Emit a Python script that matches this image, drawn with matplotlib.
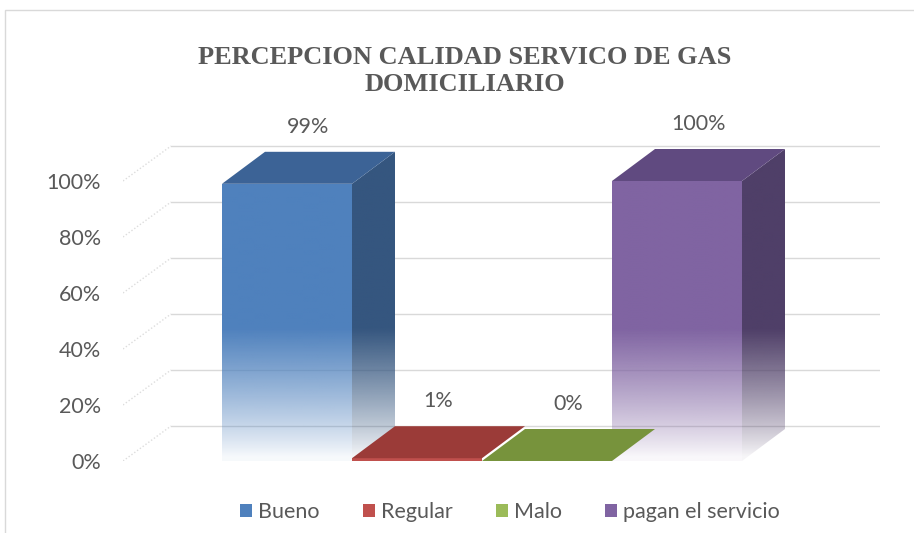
import numpy as np
import matplotlib
matplotlib.use("Agg")
import matplotlib.pyplot as plt
from matplotlib.patches import Polygon, Rectangle
from matplotlib.colors import to_rgb

# ---- data ----
series = ["Bueno", "Regular", "Malo", "pagan el servicio"]
values = [0.99, 0.01, 0.00, 1.00]
value_labels = ["99%", "1%", "0%", "100%"]
yticks = [0.0, 0.2, 0.4, 0.6, 0.8, 1.0]
ytick_labels = ["0%", "20%", "40%", "60%", "80%", "100%"]
title = "PERCEPCION CALIDAD SERVICO DE GAS\nDOMICILIARIO"

# ---- styles ----
front_colors = ["#4F81BD", "#C0504D", "#9BBB59", "#8064A2"]
top_colors = ["#3C6396", "#9B3B38", "#77933C", "#604A80"]
side_colors = ["#35567F", "#8A3431", "#657D33", "#4F3F68"]
text_color = "#595959"
grid_color = "#D9D9D9"
FONT = "Lato"
FS = 15.5

W, H = 914, 533
fig = plt.figure(figsize=(W / 100, H / 100), dpi=100)

# axes geometry (pixel based layout)
px_x0, px_x1 = 123, 880
px_y0 = 461
unit_x = 130.0  # pixels per bar
unit_y = 280.0  # pixels per 100%
xmin = -(287 - px_x0) / unit_x
xmax = xmin + (px_x1 - px_x0) / unit_x
ymax = 1.25
ax = fig.add_axes([px_x0 / W, (H - px_y0) / H, (px_x1 - px_x0) / W, ymax * unit_y / H])

# depth offsets (data units)
wdx, wdy = 48 / unit_x, 35 / unit_y  # walls
bdx, bdy = 43 / unit_x, 32 / unit_y  # bars

# back wall gridlines and side diagonals
for t in yticks:
    ax.plot([xmin + wdx, xmax], [t + wdy, t + wdy], color=grid_color, lw=1.0, zorder=1)
    ax.plot([xmin, xmin + wdx], [t, t + wdy], color="#DDDDDD", lw=1.0, ls=(0, (1, 1.5)), zorder=1)


def alpha_profile(y):
    return np.clip(y / 0.47, 0.03, 1.0) ** 0.85


def gradient_fill(poly_xy, color, zorder, ylo, yhi):
    patch = Polygon(poly_xy, closed=True, facecolor="none", edgecolor="none", zorder=zorder)
    ax.add_patch(patch)
    xs = [p[0] for p in poly_xy]
    n = 200
    ys = np.linspace(ylo, yhi, n)
    rgba = np.zeros((n, 2, 4))
    rgba[..., :3] = to_rgb(color)
    rgba[..., 3] = alpha_profile(ys)[:, None]
    im = ax.imshow(rgba, extent=(min(xs), max(xs), ylo, yhi), origin="lower",
                   aspect="auto", interpolation="bilinear", zorder=zorder)
    im.set_clip_path(patch)


for i, v in enumerate(values):
    x0, x1 = i - 0.5, i + 0.5
    side = [(x1, 0), (x1 + bdx, bdy), (x1 + bdx, v + bdy), (x1, v)]
    top = [(x0, v), (x1, v), (x1 + bdx, v + bdy), (x0 + bdx, v + bdy)]
    front = [(x0, 0), (x1, 0), (x1, v), (x0, v)]
    if v > 0.05:
        gradient_fill(side, side_colors[i], 3, 0, v + bdy)
        gradient_fill(front, front_colors[i], 4, 0, v)
    else:
        ax.add_patch(Polygon(front, closed=True, facecolor=front_colors[i], edgecolor="none", zorder=4))
    ax.add_patch(Polygon(top, closed=True, facecolor=top_colors[i], edgecolor="none", zorder=5))
    ax.annotate(value_labels[i], xy=(i + bdx / 2, v + bdy), xytext=(0, 25),
                textcoords="offset pixels", ha="center", va="center",
                fontsize=FS, color=text_color, family=FONT, zorder=6)

ax.set_xlim(xmin, xmax)
ax.set_ylim(0, ymax)
ax.set_yticks(yticks)
ax.set_yticklabels(ytick_labels)
ax.set_xticks([])
ax.tick_params(axis="y", length=0, pad=16, labelsize=FS, labelcolor=text_color)
for lab in ax.get_yticklabels():
    lab.set_family(FONT)
for s in ax.spines.values():
    s.set_visible(False)
ax.patch.set_alpha(0)

# title
fig.text(465 / W, 1 - 71 / H, title, ha="center", va="center", fontsize=19,
         fontweight="bold", family="Liberation Serif", color=text_color, linespacing=1.2)

# legend
handles = [Rectangle((0, 0), 1, 1, facecolor=c, edgecolor="none") for c in front_colors]
fig.legend(handles, series, loc="center", bbox_to_anchor=(510 / W, 1 - 512 / H), ncol=4,
           frameon=False, labelcolor=text_color, prop={"family": FONT, "size": FS},
           handlelength=0.55, handleheight=0.55, handletextpad=0.3, columnspacing=2.0)

# chart border
fig.add_artist(Rectangle((5 / W, -0.05), 1.2, 1 - 10 / H + 0.05, transform=fig.transFigure,
                         facecolor="none", edgecolor="#D9D9D9", lw=1.0))

fig.savefig("out.png", dpi=100)
